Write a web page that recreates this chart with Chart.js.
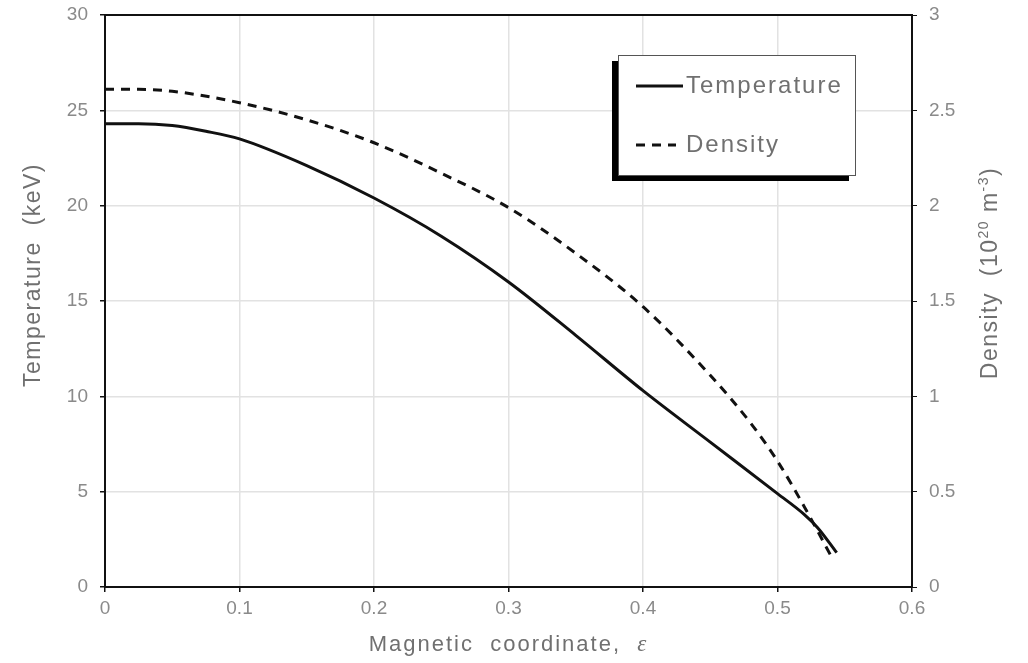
<!DOCTYPE html>
<html lang="en">
<head>
  <meta charset="UTF-8" />
  <title>Temperature and density profiles</title>
  <script src="https://cdn.jsdelivr.net/npm/chart.js"></script>
  <style>
    html, body { margin: 0; padding: 0; background: #fff; }
    #wrap { width: 1028px; height: 663px; }
  </style>
</head>
<body>
  <div id="wrap"><canvas id="profileChart" width="1028" height="663"></canvas></div>

  <script>
    // values
    const tempEps = [0, 0.025, 0.05, 0.075, 0.1, 0.15, 0.2, 0.25, 0.3, 0.35, 0.4, 0.45, 0.5, 0.52, 0.53, 0.544];
    const tempKeV = [24.3, 24.3, 24.2, 23.9, 23.5, 22.1, 20.4, 18.4, 16.0, 13.2, 10.3, 7.6, 4.9, 3.8, 3.1, 1.8];

    const densEps = [0, 0.025, 0.05, 0.1, 0.15, 0.2, 0.25, 0.3, 0.35, 0.4, 0.45, 0.48, 0.5, 0.52, 0.54];
    const densVal = [2.61, 2.61, 2.60, 2.54, 2.45, 2.33, 2.17, 1.99, 1.75, 1.47, 1.11, 0.86, 0.66, 0.42, 0.16];

    const xTicks = [0, 0.1, 0.2, 0.3, 0.4, 0.5, 0.6];
    const tempTicks = [0, 5, 10, 15, 20, 25, 30];
    const densTicks = [0, 0.5, 1, 1.5, 2, 2.5, 3];

    const seriesNames = ["Temperature", "Density"];

    const SANS = "'Liberation Sans', Arial, sans-serif";
    const tickFont = { family: SANS, size: 19 };
    const tickGrey = "#8a8a8a";
    const titleGrey = "#707070";

    const pairs = (xs, ys) => xs.map((x, i) => ({ x: x, y: ys[i] }));

    // draw a run of [text, size, raise, italic] pieces centred on (cx, cy)
    function drawRich(ctx, parts, cx, cy, angle, spacing) {
      ctx.save();
      ctx.translate(cx, cy);
      ctx.rotate(angle);
      ctx.letterSpacing = spacing + "px";
      const fontOf = p => (p[3] ? "italic " + p[1] + "px 'Liberation Serif', serif" : p[1] + "px " + SANS);
      let total = 0;
      parts.forEach(p => { ctx.font = fontOf(p); total += ctx.measureText(p[0]).width; });
      let x = -total / 2;
      ctx.textAlign = "left";
      ctx.textBaseline = "middle";
      parts.forEach(p => {
        ctx.font = fontOf(p);
        ctx.fillText(p[0], x, -p[2]);
        x += ctx.measureText(p[0]).width;
      });
      ctx.restore();
    }

    // frame, axis titles and the shadowed legend box
    const decorPlugin = {
      id: "decor",
      afterDraw(chart) {
        const ctx = chart.ctx;
        const a = chart.chartArea;
        ctx.save();

        ctx.strokeStyle = "#111";
        ctx.lineWidth = 2;
        ctx.strokeRect(a.left, a.top, a.right - a.left, a.bottom - a.top);

        ctx.fillStyle = titleGrey;
        drawRich(ctx, [["Magnetic  coordinate,  ", 22, 0, false], ["\u03B5", 23, 0, true]],
                 (a.left + a.right) / 2, 645, 0, 2);
        drawRich(ctx, [["Temperature  (keV)", 23, 0, false]], 34, 275, -Math.PI / 2, 1.5);
        drawRich(ctx, [["Density  (10", 23, 0, false], ["20", 14, 7, false],
                       [" m", 23, 0, false], ["-3", 14, 7, false], [")", 23, 0, false]],
                 991, 273, -Math.PI / 2, 1.5);

        // legend
        const bx = 618, by = 55, bw = 237, bh = 120;
        ctx.fillStyle = "#000";
        ctx.fillRect(bx - 6, by + 6, bw, bh);
        ctx.fillStyle = "#fff";
        ctx.fillRect(bx, by, bw, bh);
        ctx.strokeStyle = "#555";
        ctx.lineWidth = 1;
        ctx.strokeRect(bx + 0.5, by + 0.5, bw, bh);

        const rows = [86, 145];
        chart.data.datasets.forEach((ds, i) => {
          ctx.strokeStyle = ds.borderColor;
          ctx.lineWidth = ds.borderWidth;
          ctx.setLineDash(ds.borderDash || []);
          ctx.beginPath();
          ctx.moveTo(636, rows[i]);
          ctx.lineTo(i === 0 ? 683 : 676, rows[i]);
          ctx.stroke();
          ctx.setLineDash([]);
          ctx.fillStyle = titleGrey;
          ctx.textAlign = "left";
          ctx.textBaseline = "middle";
          ctx.letterSpacing = "2px";
          ctx.font = "24px " + SANS;
          ctx.fillText(ds.label, 686, rows[i]);
          ctx.letterSpacing = "0px";
        });
        ctx.restore();
      }
    };

    // fixed axis sizes so the plot box sits where the reference has it
    const fixY = w => s => { s.width = w; s.paddingTop = 0; s.paddingBottom = 0; };

    new Chart(document.getElementById("profileChart"), {
      type: "scatter",
      data: {
        datasets: [
          {
            label: seriesNames[0],
            data: pairs(tempEps, tempKeV),
            showLine: true,
            borderColor: "#111",
            borderWidth: 3,
            pointRadius: 0,
            cubicInterpolationMode: "monotone",
            yAxisID: "y"
          },
          {
            label: seriesNames[1],
            data: pairs(densEps, densVal),
            showLine: true,
            borderColor: "#111",
            borderWidth: 3,
            borderDash: [9, 7],
            pointRadius: 0,
            cubicInterpolationMode: "monotone",
            yAxisID: "y2"
          }
        ]
      },
      options: {
        responsive: false,
        animation: false,
        layout: { padding: { top: 15, left: 0, right: 0, bottom: 0 } },
        plugins: { legend: { display: false }, tooltip: { enabled: false } },
        scales: {
          x: {
            type: "linear",
            min: 0,
            max: 0.6,
            afterBuildTicks: s => { s.ticks = xTicks.map(v => ({ value: v })); },
            afterFit: s => { s.height = 76; s.paddingLeft = 0; s.paddingRight = 0; },
            grid: { color: "#e2e2e2", lineWidth: 1.5, tickColor: "#111", tickLength: 5 },
            border: { display: false },
            ticks: { color: tickGrey, font: tickFont, padding: 5, maxRotation: 0,
                     callback: v => String(v) }
          },
          y: {
            position: "left",
            min: 0,
            max: 30,
            afterBuildTicks: s => { s.ticks = tempTicks.map(v => ({ value: v })); },
            afterFit: fixY(105),
            grid: { color: "#e2e2e2", lineWidth: 1.5, tickColor: "#111", tickLength: 5 },
            border: { display: false },
            ticks: { color: tickGrey, font: tickFont, padding: 12 }
          },
          y2: {
            position: "right",
            min: 0,
            max: 3,
            afterBuildTicks: s => { s.ticks = densTicks.map(v => ({ value: v })); },
            afterFit: fixY(116),
            grid: { drawOnChartArea: false, tickColor: "#111", tickLength: 5 },
            border: { display: false },
            ticks: { color: tickGrey, font: tickFont, padding: 12,
                     callback: v => String(v) }
          }
        }
      },
      plugins: [decorPlugin]
    });
  </script>
</body>
</html>
